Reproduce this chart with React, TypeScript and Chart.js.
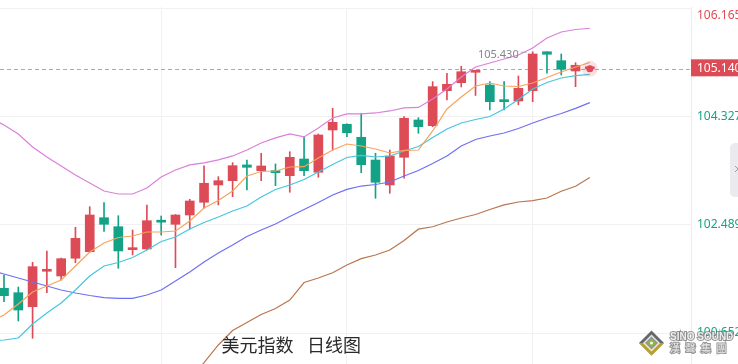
import React, { useEffect, useRef } from "react";
import { Chart, registerables } from "chart.js";

Chart.register(...registerables);

const RED = "#dd4b57";
const GREEN = "#14a287";

// Daily candles (first visible candle = index 0)
const openPrices = [
  101.412, 101.337, 101.099, 101.701, 101.621, 101.922, 102.034, 102.611, 102.458, 102.068,
  102.080, 102.550, 102.499, 102.657, 102.873, 103.167, 103.240, 103.507, 103.410, 103.410,
  103.325, 103.608, 103.383, 104.101, 104.198, 103.977, 103.591, 103.167, 103.637, 104.271,
  104.174, 104.769, 104.905, 105.081, 104.865, 104.606, 104.594, 104.769, 105.430, 105.278,
  105.103, 105.140,
];
const highPrices = [
  101.638, 101.434, 101.854, 102.046, 101.925, 102.448, 102.798, 102.866, 102.645, 102.402,
  102.827, 102.640, 102.665, 102.924, 103.490, 103.308, 103.546, 103.591, 103.705, 103.524,
  103.732, 103.987, 104.033, 104.470, 104.205, 104.385, 103.705, 103.761, 104.327, 104.310,
  104.922, 105.064, 105.183, 105.110, 104.922, 104.922, 105.018, 105.430, 105.430, 105.392,
  105.244, 105.150,
];
const lowPrices = [
  101.184, 100.857, 100.563, 101.337, 101.553, 101.847, 102.020, 102.380, 101.752, 101.978,
  102.070, 102.317, 101.762, 102.414, 102.771, 102.827, 102.968, 103.082, 103.240, 103.155,
  103.043, 103.325, 103.298, 103.761, 103.987, 103.376, 102.941, 103.026, 103.281, 104.045,
  104.157, 104.611, 104.832, 104.687, 104.441, 104.441, 104.528, 104.582, 105.064, 105.035,
  104.837, 105.130,
];
const closePrices = [
  101.286, 101.043, 101.779, 101.735, 101.915, 102.261, 102.657, 102.499, 102.046, 102.102,
  102.560, 102.535, 102.657, 102.895, 103.196, 103.240, 103.495, 103.467, 103.490, 103.376,
  103.637, 103.410, 104.016, 104.232, 104.055, 103.512, 103.213, 103.659, 104.300, 104.157,
  104.837, 104.877, 105.091, 105.103, 104.582, 104.582, 104.809, 105.392, 105.387, 105.132,
  105.200, 105.140,
];

// Moving averages / band, starting one candle before the first visible one
const lineStart = -1;
const ma5 = [
  100.840, 100.959, 101.145, 101.349, 101.451, 101.553, 101.791, 102.029, 102.181, 102.275,
  102.300, 102.368, 102.368, 102.385, 102.555, 102.776, 102.903, 103.065, 103.319, 103.396,
  103.404, 103.472, 103.477, 103.625, 103.761, 103.863, 103.829, 103.778, 103.710, 103.753,
  103.761, 104.084, 104.457, 104.661, 104.848, 104.899, 104.848, 104.840, 104.899, 104.993,
  105.086, 105.171, 105.247,
];
const ma10 = [
  100.517, 100.534, 100.567, 100.805, 100.992, 101.162, 101.383, 101.621, 101.791, 101.850,
  101.935, 102.062, 102.207, 102.283, 102.419, 102.529, 102.623, 102.725, 102.810, 102.963,
  103.090, 103.167, 103.260, 103.387, 103.515, 103.634, 103.668, 103.642, 103.659, 103.744,
  103.821, 103.973, 104.118, 104.220, 104.279, 104.330, 104.457, 104.619, 104.797, 104.908,
  104.984, 105.023, 105.047,
];
const ma20 = [
  101.723, 101.655, 101.587, 101.519, 101.451, 101.383, 101.332, 101.289, 101.255, 101.242,
  101.242, 101.298, 101.383, 101.536, 101.689, 101.858, 102.011, 102.147, 102.292, 102.402,
  102.504, 102.632, 102.751, 102.869, 102.997, 103.093, 103.149, 103.175, 103.217, 103.319,
  103.413, 103.532, 103.659, 103.829, 103.939, 103.999, 104.050, 104.126, 104.220, 104.305,
  104.381, 104.469, 104.565,
];
const upperBand = [
  104.305, 104.186, 104.033, 103.812, 103.642, 103.489, 103.337, 103.201, 103.065, 103.014,
  103.014, 103.116, 103.303, 103.422, 103.507, 103.541, 103.592, 103.660, 103.762, 103.881,
  103.966, 104.033, 103.983, 104.135, 104.305, 104.373, 104.373, 104.390, 104.424, 104.475,
  104.484, 104.628, 104.798, 105.002, 105.171, 105.239, 105.307, 105.375, 105.494, 105.664,
  105.766, 105.808, 105.829,
];
const ma60Start = 11;
const ma60 = [
  99.344, 99.599, 99.871, 100.151, 100.449, 100.695, 100.831, 100.967, 101.069, 101.213,
  101.510, 101.587, 101.677, 101.808, 101.915, 101.977, 102.062, 102.224, 102.416, 102.457,
  102.538, 102.606, 102.665, 102.751, 102.830, 102.878, 102.900, 102.946, 103.061, 103.146,
  103.294,
];

const yTicks = [100.652, 102.489, 104.327, 106.165];
const yMin = 100.126;
const yMax = 106.19;
const xMin = -0.28;
const xMax = 48.08;
const gridIndices = [11, 24, 37];
const currentPrice = 105.14;
const titleLeft = "美元指数";
const titleRight = "日线图";
const logoText = "SINO SOUND";
const logoChars = ["漢", "聲", "集", "團"];

export default function App() {
  const canvasRef = useRef<HTMLCanvasElement | null>(null);

  useEffect(() => {
    const canvas = canvasRef.current;
    if (!canvas) return;

    const isUp = (i: number) => closePrices[i] >= openPrices[i];
    const candleColor = (ctx: any) => (isUp(ctx.dataIndex) ? RED : GREEN);
    const bodies = openPrices.map((o, i) => ({
      x: i,
      y: [Math.min(o, closePrices[i]), Math.max(o, closePrices[i])],
    }));
    const wicks = openPrices.map((_, i) => ({ x: i, y: [lowPrices[i], highPrices[i]] }));
    const series = (arr: number[], start: number) => arr.map((v, k) => ({ x: start + k, y: v }));
    const lastIndex = closePrices.length - 1;

    const lineDs = (label: string, data: any[], color: string) => ({
      type: "line" as const,
      label,
      data,
      borderColor: color,
      borderWidth: 1.2,
      pointRadius: 0,
      tension: 0,
      fill: false,
      order: 1,
    });

    const overlay = {
      id: "overlay",
      beforeDatasetsDraw(chart: any) {
        const { ctx, chartArea, scales } = chart;
        const y = scales.y.getPixelForValue(currentPrice);
        ctx.save();
        ctx.strokeStyle = "rgba(224,80,95,0.65)";
        ctx.lineWidth = 1;
        ctx.setLineDash([4, 3]);
        ctx.beginPath();
        ctx.moveTo(chartArea.left, Math.round(y) + 0.5);
        ctx.lineTo(chartArea.right, Math.round(y) + 0.5);
        ctx.stroke();
        ctx.restore();
      },
      afterDraw(chart: any) {
        const { ctx, chartArea, scales } = chart;
        const ys = scales.y;
        const xs = scales.x;
        ctx.save();
        // y-axis labels
        ctx.font = '12px "Noto Sans"';
        ctx.textAlign = "left";
        ctx.textBaseline = "middle";
        yTicks.forEach((v) => {
          const py = Math.max(ys.getPixelForValue(v), 16);
          ctx.fillStyle = v > currentPrice ? "#e14b55" : "#13a386";
          ctx.fillText(v.toFixed(3), chartArea.right + 6, py);
        });
        // current price box
        const cy = ys.getPixelForValue(currentPrice) - 1;
        ctx.fillStyle = RED;
        ctx.fillRect(chartArea.right, cy - 8.5, 60, 17);
        ctx.fillStyle = "#ffffff";
        ctx.fillText(currentPrice.toFixed(3), chartArea.right + 6, cy + 0.5);
        // high marker
        let hi = 0;
        highPrices.forEach((h, i) => {
          if (h > highPrices[hi]) hi = i;
        });
        const hx = xs.getPixelForValue(hi);
        const hy = ys.getPixelForValue(highPrices[hi]);
        ctx.font = '11px "Noto Sans"';
        ctx.textAlign = "right";
        ctx.fillStyle = "#80858f";
        ctx.fillText(highPrices[hi].toFixed(3), hx - 14, hy + 3);
        ctx.strokeStyle = "rgba(150,150,160,0.6)";
        ctx.lineWidth = 1;
        ctx.beginPath();
        ctx.moveTo(hx - 12, hy + 0.5);
        ctx.lineTo(hx - 6, hy + 0.5);
        ctx.stroke();
        // title
        ctx.font = '18px "Noto Sans CJK SC"';
        ctx.textAlign = "left";
        ctx.textBaseline = "middle";
        ctx.fillStyle = "#2a2a2a";
        ctx.fillText(titleLeft, 221.5, 345);
        ctx.fillText(titleRight, 307, 345);
        // side button
        ctx.fillStyle = "#ebebef";
        ctx.beginPath();
        (ctx as any).roundRect(730, 143, 16, 54, 5);
        ctx.fill();
        ctx.strokeStyle = "#9a9aa2";
        ctx.lineWidth = 1;
        ctx.beginPath();
        ctx.moveTo(735, 166);
        ctx.lineTo(738, 169);
        ctx.moveTo(735, 172);
        ctx.lineTo(738, 169);
        ctx.stroke();
        // logo watermark
        const lx = 651.5;
        const lyc = 343;
        const dia = (r: number, color: string) => {
          ctx.fillStyle = color;
          ctx.beginPath();
          ctx.moveTo(lx, lyc - r);
          ctx.lineTo(lx + r, lyc);
          ctx.lineTo(lx, lyc + r);
          ctx.lineTo(lx - r, lyc);
          ctx.closePath();
          ctx.fill();
        };
        ctx.globalAlpha = 0.9;
        dia(12.5, "#575757");
        ctx.fillStyle = "#c8a720";
        ctx.beginPath();
        ctx.moveTo(lx - 12.5, lyc);
        ctx.lineTo(lx + 12.5, lyc);
        ctx.lineTo(lx, lyc + 12.5);
        ctx.closePath();
        ctx.fill();
        dia(8.5, "#f4f4f4");
        dia(6.5, "#8c8c8c");
        dia(4.5, "#86b83a");
        ctx.fillStyle = "#ffffff";
        ctx.beginPath();
        ctx.arc(lx, lyc, 1.6, 0, Math.PI * 2);
        ctx.fill();
        ctx.font = 'bold 10px "Liberation Sans"';
        ctx.textAlign = "left";
        ctx.textBaseline = "middle";
        ctx.lineWidth = 2;
        ctx.strokeStyle = "rgba(110,110,110,0.8)";
        ctx.fillStyle = "#f7f7f7";
        ctx.strokeText(logoText, 670, 337.5);
        ctx.fillText(logoText, 670, 337.5);
        ctx.font = '10px "Noto Sans CJK TC"';
        logoChars.forEach((c, k) => {
          ctx.strokeText(c, 670 + k * 15.5, 348.5);
          ctx.fillText(c, 670 + k * 15.5, 348.5);
        });
        ctx.restore();
      },
    };

    const chart = new Chart(canvas, {
      type: "bar",
      data: {
        datasets: [
          {
            type: "line",
            data: [{ x: lastIndex, y: currentPrice }],
            showLine: false,
            pointRadius: 3.5,
            pointBackgroundColor: "#e04a57",
            pointBorderWidth: 0,
            order: 0,
          } as any,
          {
            type: "line",
            data: [{ x: lastIndex, y: currentPrice }],
            showLine: false,
            pointRadius: 8,
            pointBackgroundColor: "rgba(224,74,87,0.16)",
            pointBorderWidth: 0,
            order: 0.5,
          } as any,
          lineDs("MA5", series(ma5, lineStart), "#f7a35c") as any,
          lineDs("MA10", series(ma10, lineStart), "#45c6df") as any,
          lineDs("MA20", series(ma20, lineStart), "#6e70f3") as any,
          lineDs("UP", series(upperBand, lineStart), "#dc80d9") as any,
          lineDs("MA60", series(ma60, ma60Start), "#b9764d") as any,
          {
            type: "bar",
            label: "body",
            data: bodies as any,
            backgroundColor: candleColor,
            barThickness: 9,
            minBarLength: 2,
            grouped: false,
            order: 2,
          } as any,
          {
            type: "bar",
            label: "wick",
            data: wicks as any,
            backgroundColor: candleColor,
            barThickness: 1,
            grouped: false,
            order: 3,
          } as any,
        ],
      },
      options: {
        responsive: false,
        animation: false,
        devicePixelRatio: 1,
        events: [],
        layout: { autoPadding: false, padding: { top: 7, left: 0, right: 0, bottom: 0 } },
        plugins: { legend: { display: false }, tooltip: { enabled: false } },
        scales: {
          x: {
            type: "linear",
            min: xMin,
            max: xMax,
            offset: false,
            grid: { color: "#f1f1f4", offset: false, drawTicks: false },
            border: { display: false },
            ticks: { display: false },
            afterBuildTicks: (s: any) => {
              s.ticks = gridIndices.map((v) => ({ value: v }));
            },
            afterFit: (s: any) => {
              s.height = 0;
            },
          },
          y: {
            type: "linear",
            position: "right",
            min: yMin,
            max: yMax,
            grid: { color: "#f1f1f4", drawTicks: false },
            border: { display: true, color: "#ececef" },
            ticks: { display: false },
            afterBuildTicks: (s: any) => {
              s.ticks = yTicks.map((v) => ({ value: v }));
            },
            afterFit: (s: any) => {
              s.width = 47;
            },
          },
        },
      } as any,
      plugins: [overlay],
    });

    return () => chart.destroy();
  }, []);

  return (
    <div style={{ position: "absolute", left: 0, top: 0, width: 738, height: 364, background: "#ffffff" }}>
      <canvas ref={canvasRef} width={738} height={364} style={{ display: "block", width: 738, height: 364 }} />
    </div>
  );
}
